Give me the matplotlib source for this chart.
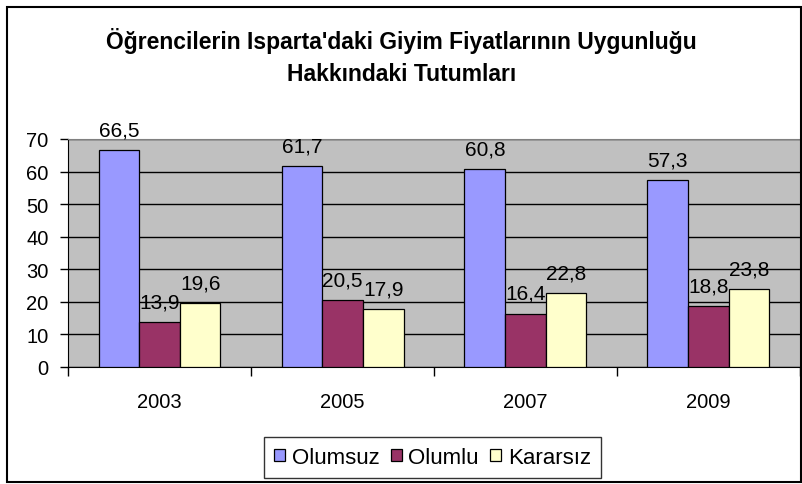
import matplotlib.pyplot as plt
import numpy as np
from matplotlib.patches import Rectangle

plt.rcParams['font.family'] = ['Liberation Sans', 'DejaVu Sans']

years = ["2003", "2005", "2007", "2009"]
olumsuz = [66.5, 61.7, 60.8, 57.3]
olumlu = [13.9, 20.5, 16.4, 18.8]
kararsiz = [19.6, 17.9, 22.8, 23.8]
series_names = ["Olumsuz", "Olumlu", "Kararsız"]
colors = ["#9999FF", "#993366", "#FFFFCC"]

fig = plt.figure(figsize=(8.03, 4.85), dpi=100)
# outer chart border
fig.patches.append(Rectangle((7.5 / 803, 2 / 485), 793.5 / 803, 475 / 485,
                             transform=fig.transFigure, fill=False,
                             edgecolor="black", linewidth=1.5))

ax = fig.add_axes([68 / 803, 117 / 485, 732 / 803, 228 / 485])
ax.set_facecolor("#C0C0C0")

x = np.arange(len(years))
w = 1 / 4.5
for i, (vals, name, c) in enumerate(zip([olumsuz, olumlu, kararsiz], series_names, colors)):
    pos = x + (i - 1) * w
    ax.bar(pos, vals, width=w, color=c, edgecolor="black", linewidth=0.9,
           label=name, zorder=3)
    for p, v in zip(pos, vals):
        ax.annotate(f"{v:.1f}".replace(".", ","), (p, v), xytext=(0, 10.5),
                    textcoords="offset points", ha="center", va="baseline",
                    fontsize=15, zorder=4)

ax.set_xlim(-0.5, len(years) - 0.5)
ax.set_ylim(0, 70)
ax.set_yticks(range(0, 71, 10))
ax.yaxis.grid(True, color="black", linewidth=1.0, zorder=1)
ax.set_axisbelow(True)

# ticks between the categories, labels centered on them
ax.set_xticks(np.arange(-0.5, len(years)))
ax.set_xticklabels([])
ax.set_xticks(x, minor=True)
ax.set_xticklabels(years, minor=True, fontsize=14.5)
ax.tick_params(axis="x", which="minor", length=0, pad=18)
ax.tick_params(axis="x", which="major", length=6.5, width=1.0, direction="out")
ax.tick_params(axis="y", labelsize=14.5, length=6, width=1.0, pad=8, direction="out")

ax.spines["top"].set_color("#808080")
ax.spines["right"].set_visible(False)
ax.spines["left"].set_color("black")
ax.spines["bottom"].set_color("black")

fig.text(0.5, 1 - 49 / 485, "Öğrencilerin Isparta'daki Giyim Fiyatlarının Uygunluğu",
         ha="center", va="baseline", fontsize=16.5, fontweight="bold")
fig.text(0.5, 1 - 81 / 485, "Hakkındaki Tutumları",
         ha="center", va="baseline", fontsize=16.5, fontweight="bold")

leg = fig.legend(loc="center", bbox_to_anchor=(432.5 / 803, 1 - 458.5 / 485), ncol=3,
                 fontsize=16, frameon=True, fancybox=False, edgecolor="black",
                 handlelength=0.5, handleheight=0.5, handletextpad=0.3,
                 columnspacing=0.5, borderpad=0.45, borderaxespad=0)
leg.get_frame().set_linewidth(1.0)

fig.savefig("out.png", dpi=100)
